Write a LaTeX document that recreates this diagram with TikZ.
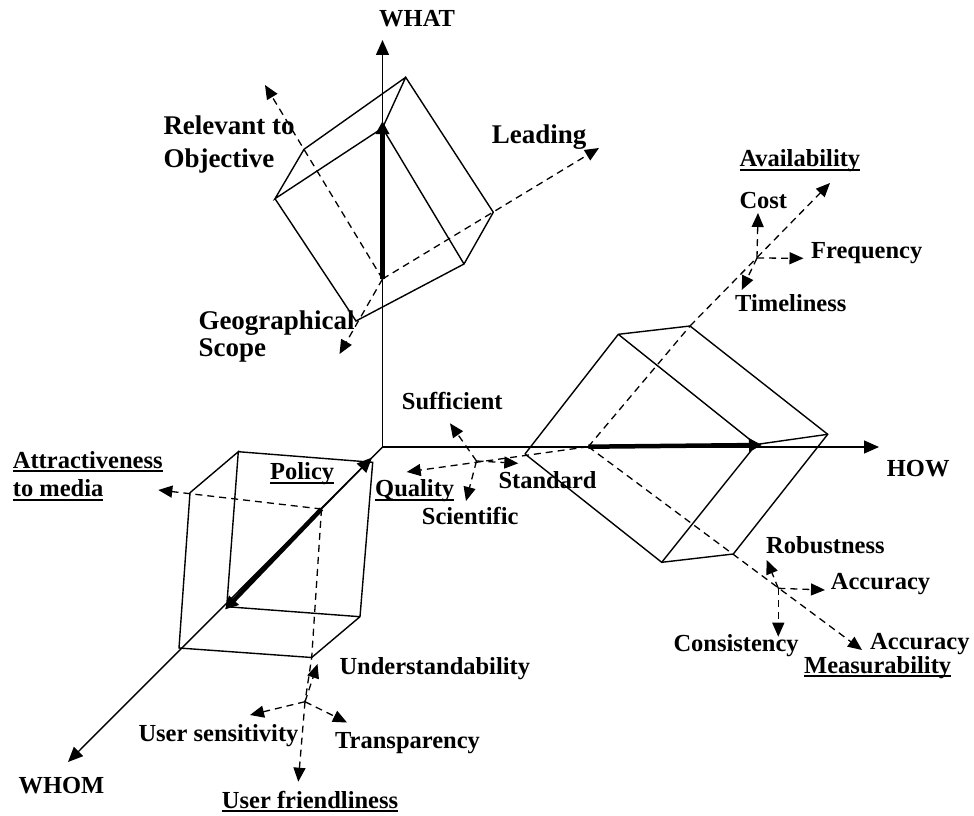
\documentclass[tikz,border=0pt]{standalone}
\usepackage{fontspec}
\setmainfont{Liberation Serif}
\usetikzlibrary{arrows.meta}
\newcommand\myul[1]{\setbox0\hbox{#1}\rlap{\rule[-4pt]{\wd0}{1.8pt}}\box0}
\begin{document}
\begin{tikzpicture}[x=1pt,y=-1pt,
  cubeedge/.style={line width=1.4pt},
  hidline/.style={line width=1.3pt,dash pattern=on 7pt off 5pt},
  hidarrow/.style={hidline,-{Triangle[length=14pt,width=12pt]}},
  axisarrow/.style={line width=1.4pt,-{Triangle[length=15pt,width=13pt]}},
  fatarrow/.style={line width=4.5pt,-{Triangle[length=13pt,width=13pt]}},
  lbl/.style={font=\fontsize{24.5}{28}\selectfont\bfseries,inner sep=0pt,anchor=base west},
  biglbl/.style={font=\fontsize{27}{31}\selectfont\bfseries,inner sep=0pt,anchor=base west}]
\useasboundingbox (0,0) rectangle (974,816);

% axes
\coordinate (O) at (382.5,447);
\coordinate (whatTip) at (382.5,40);
\coordinate (howTip) at (879,447);
\coordinate (whomTip) at (68,762);

% top cube
\coordinate (tA) at (405.7,77.3);
\coordinate (tB) at (304,149.3);
\coordinate (tC) at (275,198.7);
\coordinate (tE) at (382.5,128);
\coordinate (tF) at (464,264);
\coordinate (tG) at (493.3,212.3);
\coordinate (tH) at (356,321);
\coordinate (tP) at (382.5,279);
\coordinate (tTop) at (382.5,121);
\coordinate (relTip) at (265,85);
\coordinate (leadTip) at (599,148);
\coordinate (geoTip) at (339.5,354);

% right cube
\coordinate (rL) at (525,454);
\coordinate (rTL) at (618.3,334.3);
\coordinate (rTR) at (690,326);
\coordinate (rR) at (827.7,434.3);
\coordinate (rF) at (756,444.5);
\coordinate (rBL) at (661.7,562.3);
\coordinate (rBR) at (733.3,554);
\coordinate (rQ) at (588.3,446.7);
\coordinate (rTip) at (762,445);
\coordinate (availTip) at (830,183);
\coordinate (qualTip) at (406.7,472);
\coordinate (measTip) at (862,650);
\coordinate (j1) at (757,258);
\coordinate (costTip) at (758,213);
\coordinate (freqTip) at (803.5,258.3);
\coordinate (timeTip) at (741.7,290);
\coordinate (j2) at (476.5,461);
\coordinate (suffTip) at (450,423.3);
\coordinate (scienTip) at (466,501);
\coordinate (standTip) at (518.3,463.3);
\coordinate (j3) at (778.3,588.3);
\coordinate (robTip) at (766.7,560);
\coordinate (accTip) at (825,590);
\coordinate (consTip) at (778.3,636.7);

% left cube
\coordinate (lTL) at (238.3,451.7);
\coordinate (lTR) at (372.7,462.3);
\coordinate (lL) at (190,492.7);
\coordinate (lBL) at (179,648);
\coordinate (lB) at (311.7,657.5);
\coordinate (lR) at (360,616.7);
\coordinate (lI) at (226.7,606.7);
\coordinate (lD) at (321.5,509);
\coordinate (lTip) at (225,609.5);
\coordinate (wTip2) at (372,457.5);
\coordinate (attrTip) at (158.3,490);
\coordinate (j4) at (305,701.7);
\coordinate (ufTip) at (298.3,781.7);
\coordinate (undTip) at (317.5,664);
\coordinate (usensTip) at (250,715);
\coordinate (transTip) at (347,722.5);

% axes
\draw[axisarrow] (O) -- (whatTip);
\draw[axisarrow] (O) -- (howTip);
\draw[axisarrow] (O) -- (whomTip);
\draw[axisarrow] (lD) -- (wTip2);

% top cube
\draw[cubeedge] (tA) -- (tB) -- (tC) -- (tE) -- (tA) -- (tG) -- (tF) -- (tH) -- (tC);
\draw[cubeedge] (tE) -- (tF);
\draw[hidarrow] (tP) -- (relTip);
\draw[hidarrow] (tP) -- (leadTip);
\draw[hidarrow] (tP) -- (geoTip);
\draw[fatarrow] (tP) -- (tTop);

% right cube
\draw[cubeedge] (rL) -- (rTL) -- (rTR) -- (rR) -- (rBR) -- (rBL) -- (rL);
\draw[cubeedge] (rTL) -- (rF) -- (rR);
\draw[cubeedge] (rF) -- (rBL);
\draw[hidline] (rQ) -- (rTR);
\draw[hidarrow] (rTR) -- (availTip);
\draw[hidarrow] (rQ) -- (qualTip);
\draw[hidarrow] (rQ) -- (measTip);
\draw[fatarrow] (rQ) -- (rTip);
\draw[hidarrow] (j1) -- (costTip);
\draw[hidarrow] (j1) -- (freqTip);
\draw[hidarrow] (j1) -- (timeTip);
\draw[hidarrow] (j2) -- (suffTip);
\draw[hidarrow] (j2) -- (scienTip);
\draw[hidarrow] (j2) -- (standTip);
\draw[hidarrow] (j3) -- (robTip);
\draw[hidarrow] (j3) -- (accTip);
\draw[hidarrow] (j3) -- (consTip);

% left cube
\draw[cubeedge] (lTL) -- (lTR) -- (lR) -- (lB) -- (lBL) -- (lL) -- (lTL) -- (lI) -- (lR);
\draw[hidarrow] (lD) -- (attrTip);
\draw[hidline] (lD) -- (lB) -- (j4);
\draw[hidarrow] (j4) -- (ufTip);
\draw[hidarrow] (j4) -- (undTip);
\draw[hidarrow] (j4) -- (usensTip);
\draw[hidarrow] (j4) -- (transTip);
\draw[fatarrow] (lD) -- (lTip);

% labels
\node[lbl] (what) at (379,26.7) {WHAT};
\node[biglbl] (rel1) at (163.3,134.6) {Relevant to};
\node[biglbl] (rel2) at (163.3,167.5) {Objective};
\node[biglbl] (lead) at (491.7,143) {Leading};
\node[biglbl] (geo1) at (198.3,329.6) {Geographical};
\node[biglbl] (geo2) at (198.3,356) {Scope};
\node[lbl] (avail) at (739.3,166.5) {\myul{Availability}};
\node[lbl] (cost) at (739.3,208) {Cost};
\node[lbl] (freq) at (811,258) {Frequency};
\node[lbl] (timel) at (735,311) {Timeliness};
\node[lbl] (how) at (886.7,476.5) {HOW};
\node[lbl] (robust) at (766,553) {Robustness};
\node[lbl] (acc1) at (830.7,589.5) {Accuracy};
\node[lbl] (consist) at (673.3,651.5) {Consistency};
\node[lbl] (acc2) at (870,649.5) {Accuracy};
\node[lbl] (measur) at (804,673) {\myul{Measurability}};
\node[lbl] (suff) at (401.7,409.5) {Sufficient};
\node[lbl] (standard) at (498.3,488) {Standard};
\node[lbl] (quality) at (375,496.5) {\myul{Quality}};
\node[lbl] (scient) at (421.7,524.5) {Scientific};
\node[lbl] (policy) at (270,479.5) {\myul{Policy}};
\node[lbl] (attr1) at (12.7,468) {\myul{Attractiveness}};
\node[lbl] (attr2) at (12.7,496.5) {\myul{to media}};
\node[lbl] (underst) at (339.3,674.5) {Understandability};
\node[lbl] (usens) at (138.3,741) {User sensitivity};
\node[lbl] (transp) at (335,748) {Transparency};
\node[lbl] (ufriend) at (221.7,808) {\myul{User friendliness}};
\node[lbl] (whom) at (18.3,793) {WHOM};
\end{tikzpicture}
\end{document}
